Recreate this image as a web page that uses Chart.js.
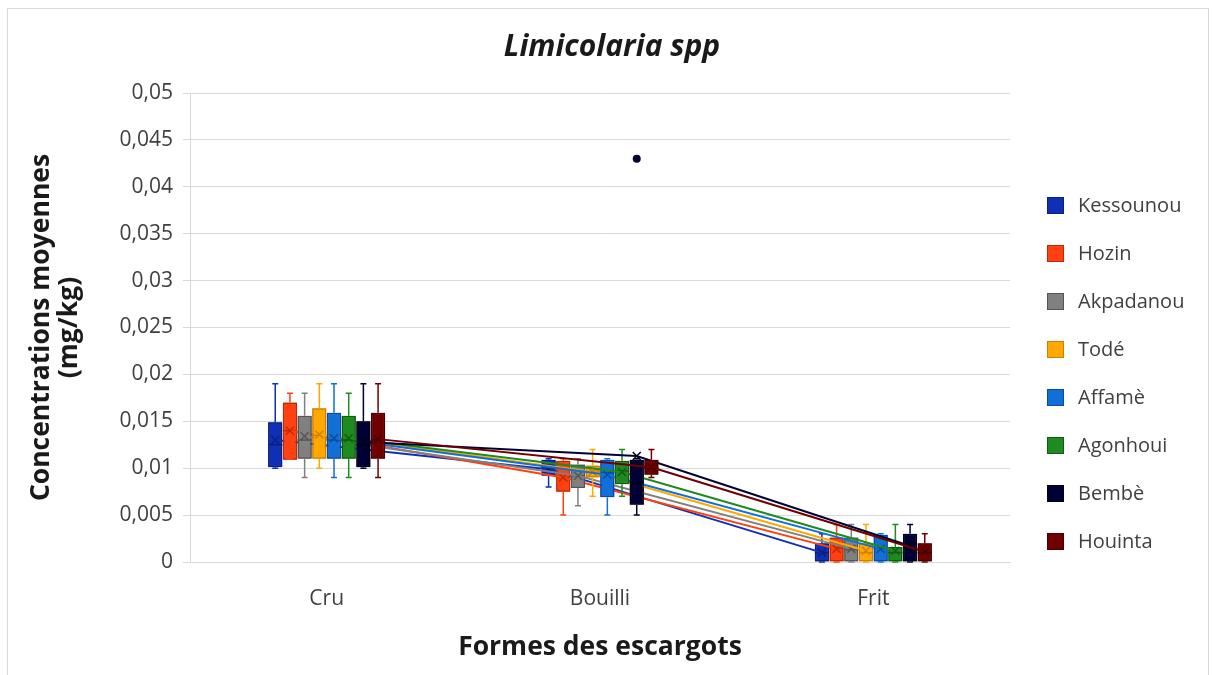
<!DOCTYPE html>
<html>
<head>
<meta charset="utf-8">
<script src="https://cdn.jsdelivr.net/npm/chart.js@4/dist/chart.umd.min.js"></script>
<style>
    body { margin: 0; background: #fff; }
    #frame { position: absolute; left: 7px; top: 8px; width: 1200px; height: 700px; border: 1px solid #d9d9d9; pointer-events: none; }
    #legend { position: absolute; left: 0; top: 0; font-family: 'Open Sans', sans-serif; font-size: 20px; color: #404040; }
    .item { position: absolute; left: 1047px; height: 24px; white-space: nowrap; }
    .swatch { position: absolute; left: 0; top: 3px; width: 15px; height: 15px; border: 1px solid; }
    .label { position: absolute; left: 31px; top: -3px; }
</style>
</head>
<body>
<canvas id="boxChart" width="1212" height="675"></canvas>
<div id="legend"></div>
<div id="frame"></div>
<script>
// categories and series
const categories = ['Cru', 'Bouilli', 'Frit'];
const sites = ['Kessounou', 'Hozin', 'Akpadanou', 'Todé', 'Affamè', 'Agonhoui', 'Bembè', 'Houinta'];
const fillColors = ['#0f2fb5', '#ff4010', '#808080', '#ffa800', '#1070d8', '#1f8a1f', '#000035', '#700000'];
const borderColors = ['#0a1f80', '#c02a00', '#555555', '#d08000', '#0a4c9e', '#0f5e0f', '#000018', '#480000'];

// box plot statistics per site: [Cru, Bouilli, Frit]
const minValues = [
    [0.010, 0.008, 0], [0.011, 0.005, 0], [0.009, 0.006, 0], [0.010, 0.007, 0],
    [0.009, 0.005, 0], [0.009, 0.007, 0], [0.010, 0.005, 0], [0.009, 0.009, 0]
];
const q1Values = [
    [0.0101, 0.0092, 0], [0.0109, 0.0075, 0], [0.0110, 0.0079, 0], [0.0110, 0.0090, 0],
    [0.0110, 0.0069, 0], [0.0110, 0.0083, 0], [0.0101, 0.0061, 0], [0.0110, 0.0093, 0]
];
const medianValues = [
    [0.0125, 0.0100, 0.0010], [0.0140, 0.0090, 0.0015], [0.0130, 0.0092, 0.0013], [0.0135, 0.0097, 0.0010],
    [0.0130, 0.0095, 0.0015], [0.0130, 0.0097, 0.0010], [0.0125, 0.0085, 0.0015], [0.0130, 0.0100, 0.0010]
];
const q3Values = [
    [0.0149, 0.0109, 0.0020], [0.0170, 0.0108, 0.0026], [0.0156, 0.0104, 0.0026], [0.0164, 0.0103, 0.0020],
    [0.0159, 0.0109, 0.0029], [0.0156, 0.0108, 0.0016], [0.0150, 0.0109, 0.0030], [0.0159, 0.0109, 0.0020]
];
const maxValues = [
    [0.019, 0.011, 0.003], [0.018, 0.011, 0.004], [0.018, 0.011, 0.004], [0.019, 0.012, 0.004],
    [0.019, 0.011, 0.003], [0.018, 0.012, 0.004], [0.019, 0.011, 0.004], [0.019, 0.012, 0.003]
];
const meanValues = [
    [0.0130, 0.0099, 0.0010], [0.0140, 0.0090, 0.0014], [0.0134, 0.0092, 0.0014], [0.0136, 0.0096, 0.0012],
    [0.0132, 0.0093, 0.0014], [0.0132, 0.0096, 0.0012], [0.0128, 0.0113, 0.0017], [0.0131, 0.0101, 0.0011]
];
const outlierSites = ['Bembè'];
const outlierCategories = ['Bouilli'];
const outlierValues = [0.043];

Chart.defaults.font.family = "'Open Sans', sans-serif";
Chart.defaults.color = '#404040';

// whiskers, medians, means and mean lines, drawn series by series
const boxExtras = {
    id: 'boxExtras',
    afterDatasetsDraw(chart) {
        const ctx = chart.ctx;
        const y = chart.scales.y;
        ctx.save();
        chart.data.datasets.forEach((ds, i) => {
            const meta = chart.getDatasetMeta(i);
            meta.data.forEach(bar => bar.draw(ctx));
            meta.data.forEach((bar, j) => {
                const x = bar.x;
                ctx.lineWidth = 1.5;
                ctx.strokeStyle = fillColors[i];
                ctx.beginPath();
                ctx.moveTo(x, y.getPixelForValue(q3Values[i][j]));
                ctx.lineTo(x, y.getPixelForValue(maxValues[i][j]));
                ctx.moveTo(x - 3, y.getPixelForValue(maxValues[i][j]));
                ctx.lineTo(x + 3, y.getPixelForValue(maxValues[i][j]));
                ctx.moveTo(x, y.getPixelForValue(q1Values[i][j]));
                ctx.lineTo(x, y.getPixelForValue(minValues[i][j]));
                ctx.moveTo(x - 3, y.getPixelForValue(minValues[i][j]));
                ctx.lineTo(x + 3, y.getPixelForValue(minValues[i][j]));
                ctx.stroke();
                // median
                ctx.strokeStyle = borderColors[i];
                const half = bar.width / 2;
                const my = y.getPixelForValue(medianValues[i][j]);
                ctx.beginPath();
                ctx.moveTo(x - half, my);
                ctx.lineTo(x + half, my);
                ctx.stroke();
            });
            // mean line
            ctx.strokeStyle = fillColors[i];
            ctx.lineWidth = 2;
            ctx.beginPath();
            meta.data.forEach((bar, j) => {
                const py = y.getPixelForValue(meanValues[i][j]);
                if (j === 0) ctx.moveTo(bar.x, py); else ctx.lineTo(bar.x, py);
            });
            ctx.stroke();
            // mean markers
            ctx.strokeStyle = borderColors[i];
            ctx.lineWidth = 1.5;
            meta.data.forEach((bar, j) => {
                const py = y.getPixelForValue(meanValues[i][j]);
                ctx.beginPath();
                ctx.moveTo(bar.x - 4, py - 4);
                ctx.lineTo(bar.x + 4, py + 4);
                ctx.moveTo(bar.x + 4, py - 4);
                ctx.lineTo(bar.x - 4, py + 4);
                ctx.stroke();
            });
            // outliers
            outlierSites.forEach((s, k) => {
                if (s !== sites[i]) return;
                const bar = meta.data[categories.indexOf(outlierCategories[k])];
                ctx.fillStyle = fillColors[i];
                ctx.beginPath();
                ctx.arc(bar.x, y.getPixelForValue(outlierValues[k]), 4, 0, Math.PI * 2);
                ctx.fill();
            });
        });
        ctx.restore();
    }
};

const ctx = document.getElementById('boxChart').getContext('2d');
const boxChart = new Chart(ctx, {
    type: 'bar',
    data: {
        labels: categories,
        datasets: sites.map((site, i) => ({
            label: site,
            data: categories.map((c, j) => [q1Values[i][j], q3Values[i][j]]),
            backgroundColor: fillColors[i],
            borderColor: borderColors[i],
            borderWidth: 1.5,
            borderSkipped: false,
            barPercentage: 0.97,
            categoryPercentage: 0.43
        }))
    },
    options: {
        responsive: false,
        animation: false,
        layout: { padding: { left: 12, right: 0, top: 0, bottom: 0 } },
        plugins: {
            legend: { display: false },
            tooltip: { enabled: false },
            title: {
                display: true,
                text: 'Limicolaria spp',
                color: '#1a1a1a',
                font: { size: 30, weight: 'bold', style: 'italic' },
                padding: { top: 29, bottom: 28 }
            }
        },
        scales: {
            x: {
                grid: { display: false },
                border: { display: true, color: '#d9d9d9' },
                ticks: { font: { size: 21 }, padding: 16 },
                title: {
                    display: true,
                    text: 'Formes des escargots',
                    color: '#1a1a1a',
                    font: { size: 26.5, weight: 'bold' },
                    padding: { top: 0, bottom: 12 }
                },
                afterFit(scale) { scale.height = 113; }
            },
            y: {
                min: 0,
                max: 0.05,
                grid: { color: '#d9d9d9', tickLength: 7 },
                border: { color: '#d9d9d9' },
                ticks: {
                    stepSize: 0.005,
                    padding: 10,
                    font: { size: 21 },
                    callback: v => String(Number(v.toFixed(3))).replace('.', ',')
                },
                title: {
                    display: true,
                    text: ['Concentrations moyennes', '(mg/kg)'],
                    color: '#1a1a1a',
                    font: { size: 26.5, weight: 'bold', lineHeight: 1.06 },
                    padding: { top: 15, bottom: 0 }
                },
                afterFit(scale) { scale.width = 178; }
            },
            // empty right axis that keeps room for the legend
            yRight: {
                position: 'right',
                grid: { display: false },
                border: { display: false },
                ticks: { display: false },
                afterFit(scale) { scale.width = 202; }
            }
        }
    },
    plugins: [boxExtras]
});

// legend on the right
const legend = document.getElementById('legend');
sites.forEach((site, i) => {
    const item = document.createElement('div');
    item.className = 'item';
    item.style.top = (206 - 12 + i * 48) + 'px';
    item.innerHTML = '<span class="swatch" style="background:' + fillColors[i] + ';border-color:' + borderColors[i] + '"></span>' +
        '<span class="label">' + site + '</span>';
    legend.appendChild(item);
});
</script>
</body>
</html>
